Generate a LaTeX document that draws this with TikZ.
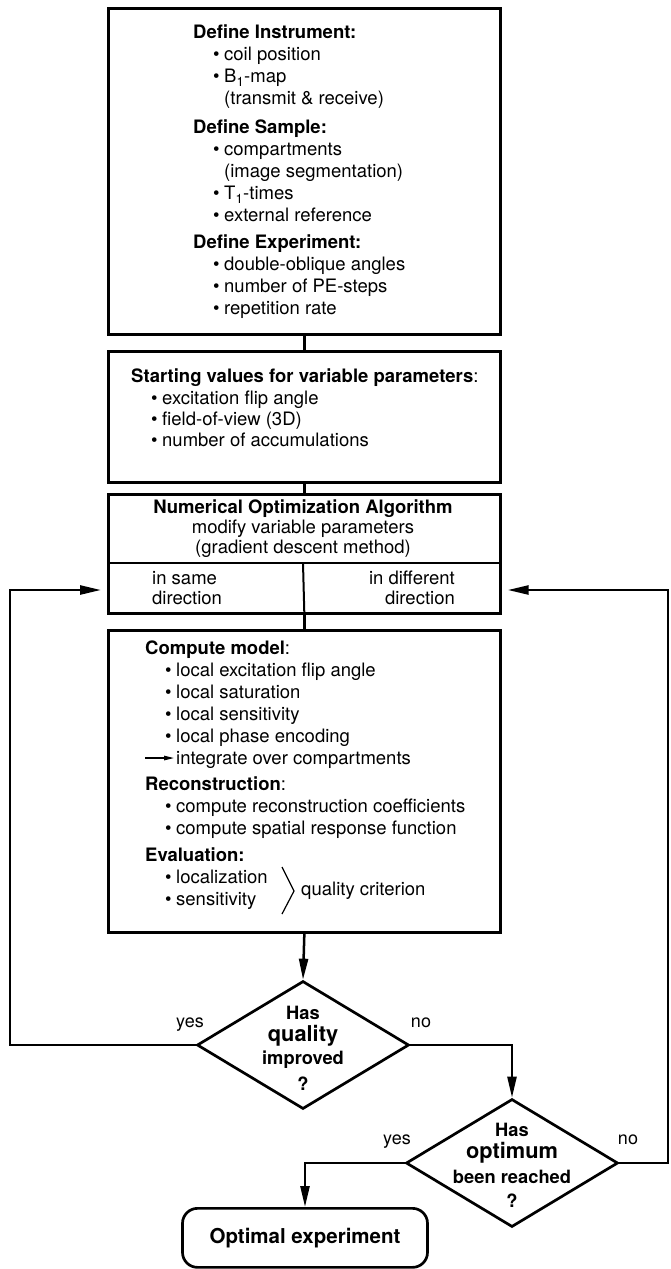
\documentclass[tikz,border=0pt]{standalone}
\usepackage{fontspec}
\setmainfont{TeX Gyre Heros}
\usetikzlibrary{arrows.meta,shapes.geometric}
\newcommand\bl{\hspace*{20pt}\makebox[11pt][l]{\textbullet}}
\newcommand\ci{\hspace*{31pt}}
\begin{document}
\begin{tikzpicture}[x=1pt,y=-1pt,
 box/.style={draw,line width=2.7pt,inner sep=0pt,anchor=north west},
 T/.style={anchor=north west,align=left,inner sep=0pt,font=\fontsize{18.5}{22}\selectfont},
 ln/.style={line width=2.5pt},
 thin/.style={line width=2pt},
 arr/.style={line width=2.5pt,-{Triangle[length=21pt,width=9pt]}},
 dia/.style={diamond,draw,line width=2.7pt,minimum width=212pt,minimum height=128pt,inner sep=0pt,aspect=1.66},
 lab/.style={font=\fontsize{18}{20}\selectfont,inner sep=0pt},
 dt/.style={font=\bfseries\fontsize{18.3}{20}\selectfont,inner sep=0pt},
 dtb/.style={font=\bfseries\fontsize{21.8}{24}\selectfont,inner sep=0pt}
]
\useasboundingbox (0,0) rectangle (670,1269);
% boxes
\node[box,minimum width=392pt,minimum height=326pt] (b1) at (107,7) {};
\node[box,minimum width=392pt,minimum height=131pt] (b2) at (107,350) {};
\node[box,minimum width=392pt,minimum height=119pt] (b3) at (107,493) {};
\node[box,minimum width=392pt,minimum height=302pt] (b4) at (107,629) {};
\node[draw,line width=2.7pt,rounded corners=15pt,minimum width=245pt,minimum height=59pt,anchor=north,inner sep=0pt,font=\bfseries\fontsize{20.5}{24}\selectfont] (opt) at (305,1207) {Optimal experiment};
\node[dia] (d1) at (303,1045) {};
\node[dia] (d2) at (512,1163) {};
% texts
\node[T] (t1) at (193,25) {\textbf{Define Instrument:}\\
\bl coil position\\
\bl B\textsubscript{1}-map\\
\ci (transmit \& receive)\\[7pt]
\textbf{Define Sample:}\\
\bl compartments\\
\ci (image segmentation)\\
\bl T\textsubscript{1}-times\\
\bl external reference\\[5pt]
\textbf{Define Experiment:}\\
\bl double-oblique angles\\
\bl number of PE-steps\\
\bl repetition rate};
\node[T,font=\fontsize{18.5}{21.3}\selectfont] (t2) at (131,369) {\textbf{Starting values for variable parameters}:\\
\bl excitation flip angle\\
\bl field-of-view (3D)\\
\bl number of accumulations};
\node[T,anchor=north,align=center,font=\fontsize{18.5}{20}\selectfont] (t3) at (303,500) {\textbf{Numerical Optimization Algorithm}\\
modify variable parameters\\
(gradient descent method)};
\node[T,font=\fontsize{18.5}{20}\selectfont] (t3a) at (152,571) {in same\\direction};
\node[T,anchor=north east,align=right,font=\fontsize{18.5}{20}\selectfont] (t3b) at (455,571) {in different\\direction};
\node[T] (t4) at (145,641) {\textbf{Compute model}:\\
\bl local excitation flip angle\\
\bl local saturation\\
\bl local sensitivity\\
\bl local phase encoding\\
\ci integrate over compartments\\[4pt]
\textbf{Reconstruction}:\\
\bl compute reconstruction coefficients\\
\bl compute spatial response function\\[5pt]
\textbf{Evaluation:}\\
\bl localization\\
\bl sensitivity};
\node[T,anchor=west] (qc) at (301,891) {quality criterion};
% box 3 dividers
\coordinate (dv) at (303,563);
\draw[thin] (b3.west |- dv) -- (b3.east |- dv);
\draw[thin] (dv) -- (b3.south);
% inner arrow and bracket
\coordinate (ia) at (145,758);
\coordinate (ib) at (174,758);
\draw[line width=1.2pt,-{Triangle[length=10pt,width=4.5pt]}] (ia) -- (ib);
\draw[line width=1.2pt] (282,867) -- (294,891) -- (282,914);
% connectors
\draw[ln] (b1.south) -- (b2.north);
\draw[ln] (b2.south) -- (b3.north);
\draw[ln] (b3.south) -- (b4.north);
\draw[arr] (b4.south) -- (d1.north);
\coordinate (lc) at (10,590);
\coordinate (rc) at (668,590);
\draw[arr,shorten >=6pt] (d1.west) -| (lc) -- (b3.west |- lc);
\draw[arr,shorten >=6pt] (d2.east) -| (rc) -- (b3.east |- rc);
\draw[arr] (d1.east) -| (d2.north);
\draw[arr] (d2.west) -| (opt.north);
% diamond texts
\node[dt] (d1a) at (303,1013) {Has};
\node[dtb] (d1b) at (303,1036) {quality};
\node[dt] (d1c) at (303,1060) {improved};
\node[dt] (d1d) at (303,1084) {?};
\node[dt] (d2a) at (512,1130) {Has};
\node[dtb] (d2b) at (512,1153) {optimum};
\node[dt] (d2c) at (512,1177) {been reached};
\node[dt] (d2d) at (512,1201) {?};
% labels
\node[lab] (y1) at (190,1025) {yes};
\node[lab] (n1) at (421,1023) {no};
\node[lab] (y2) at (397,1142) {yes};
\node[lab] (n2) at (628,1140) {no};
\end{tikzpicture}
\end{document}
